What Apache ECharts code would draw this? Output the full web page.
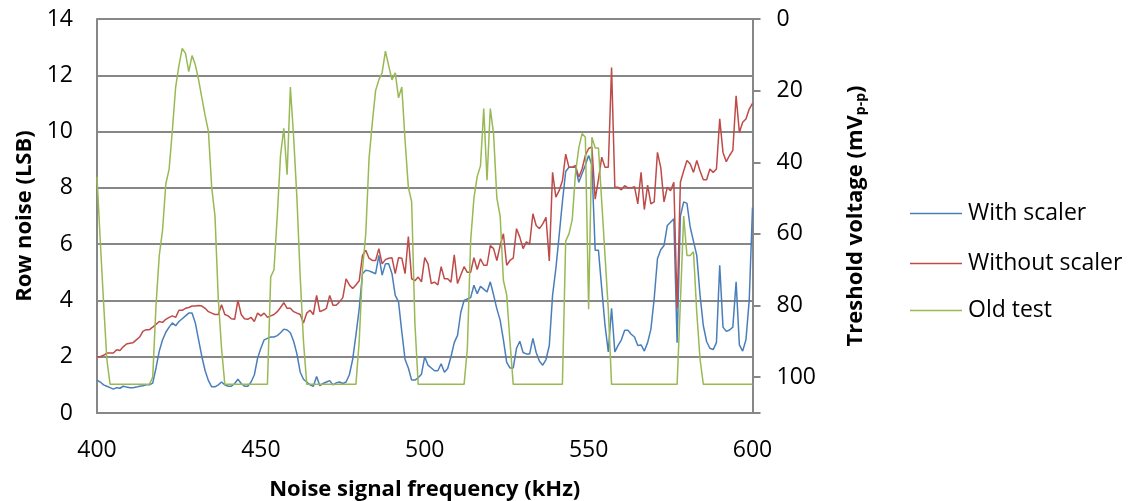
<!DOCTYPE html>
<html>
<head>
<meta charset="utf-8">
<script src="https://cdn.jsdelivr.net/npm/echarts@6/dist/echarts.min.js"></script>
<style>html,body{margin:0;padding:0;background:#fff}#c{width:1141px;height:501px}</style>
</head>
<body>
<div id="c"></div>
<script>
// Frequencies 400..600 kHz in 1 kHz steps
const freqStart = 400;
const withScaler = [
1.17,1.1,1.0,0.95,0.9,0.85,0.9,0.88,0.95,0.92,
0.9,0.9,0.92,0.95,0.97,1.0,1.0,1.06,1.6,2.2,
2.6,2.87,3.05,3.2,3.1,3.25,3.35,3.45,3.55,3.55,
3.2,2.6,2.0,1.5,1.15,0.93,0.93,1.0,1.1,1.0,
0.95,0.95,1.05,1.2,1.05,0.95,0.95,1.1,1.35,1.95,
2.3,2.6,2.65,2.7,2.7,2.75,2.85,2.98,2.95,2.85,
2.55,2.1,1.45,1.2,1.1,1.0,0.95,1.3,0.97,1.05,
1.1,1.15,1.0,1.07,1.1,1.05,1.1,1.36,1.9,2.77,
3.7,4.95,5.07,5.05,5.0,4.95,5.6,4.9,5.3,5.3,
4.95,4.18,3.95,2.88,1.9,1.6,1.17,1.17,1.25,1.38,
2.0,1.7,1.6,1.5,1.5,1.75,1.45,1.58,2.0,2.5,
2.76,3.58,4.0,4.05,4.1,4.54,4.24,4.5,4.4,4.3,
4.66,4.2,3.7,3.3,2.6,1.8,1.6,1.6,2.3,2.55,
2.15,2.1,2.1,2.65,2.15,1.84,1.7,1.9,2.4,4.18,
5.13,6.3,7.5,8.58,8.73,8.73,8.73,8.2,8.5,8.8,
9.15,8.8,5.78,5.78,4.43,3.12,2.17,3.72,2.17,2.4,
2.6,2.94,2.94,2.8,2.7,2.4,2.42,2.2,2.5,2.98,
4.06,5.48,5.8,5.95,6.66,6.78,6.9,2.5,7.0,7.5,
7.45,6.6,6.1,5.6,4.18,3.1,2.54,2.3,2.25,2.5,
5.25,3.05,2.9,2.95,3.05,4.66,2.42,2.2,2.6,4.0,
7.3
];
const withoutScaler = [
2.0,2.0,2.05,2.13,2.13,2.13,2.25,2.22,2.35,2.45,
2.48,2.5,2.6,2.7,2.9,2.96,2.96,3.05,3.15,3.25,
3.22,3.33,3.4,3.45,3.4,3.65,3.65,3.72,3.75,3.8,
3.8,3.82,3.8,3.72,3.6,3.55,3.5,3.5,3.85,3.5,
3.45,3.35,3.33,4.0,3.5,3.35,3.33,3.4,3.25,3.55,
3.45,3.55,3.4,3.45,3.5,3.6,3.75,3.92,3.72,3.72,
3.6,3.55,3.5,3.2,3.55,3.65,3.5,4.18,3.6,3.65,
3.72,4.18,3.83,3.83,3.95,4.1,4.77,4.55,4.42,4.55,
4.7,5.6,5.78,5.5,5.42,5.42,5.84,5.3,5.45,5.5,
5.52,4.95,5.52,5.5,4.95,6.27,4.77,4.7,4.83,4.66,
5.52,5.3,4.6,4.65,4.55,5.2,4.77,4.77,4.65,5.62,
4.6,4.9,5.2,5.0,5.0,5.52,5.1,5.48,5.25,5.25,
5.95,5.84,5.42,5.95,6.37,5.25,5.42,5.5,6.55,6.25,
5.84,6.08,6.0,7.08,6.66,6.55,6.72,6.95,5.4,8.55,
7.67,7.9,8.25,9.2,8.73,8.73,8.8,8.38,8.67,9.15,
9.4,9.45,7.6,8.3,9.09,8.73,8.73,12.28,8.02,8.02,
7.93,8.08,8.0,8.0,8.04,7.43,8.55,7.23,8.1,7.43,
7.5,9.26,8.73,7.5,8.02,7.9,8.2,3.72,8.2,8.6,
8.97,8.85,8.55,8.97,8.6,8.29,8.29,8.67,8.55,8.67,
10.45,9.26,8.93,9.15,9.33,11.27,9.97,10.33,10.45,10.8,
11.0
];
const oldTest = [
44,62,79,95,102,102,102,102,102,102,
102,102,102,102,102,102,102,100,80,66,
59,46,42,31,19,13,8.2,9.6,14.7,10.2,
12.8,17,22,27,31.4,47,55,78,92,102,
102,102,102,102,102,102,102,102,102,102,
102,102,102,72,70,55,38,30.5,43.5,19,
33,50,72,90,102,102,102,102,102,102,
102,102,102,102,102,102,102,102,102,102,
90,70,60,39,29,20,17,15,9,13,
17,15,22,19,34,47,51,85,102,102,
102,102,102,102,102,102,102,102,102,102,
102,102,102,92,62,50,44,41,25,45,
25,32,50,55,73,77,90,102,102,102,
102,102,102,102,102,102,102,102,102,102,
102,102,102,62,60,56,43,36,32,33,
81,33,36,36,51,66,81,102,102,102,
102,102,102,102,102,102,102,102,102,102,
102,102,102,102,102,102,102,102,79,55,
66,66,65,82,95,102,102,102,102,102,
102,102,102,102,102,102,102,102,102,102,
102
];
const seriesNames = ['With scaler', 'Without scaler', 'Old test'];
const leftTicks = [0, 2, 4, 6, 8, 10, 12, 14];
const rightTicks = [0, 20, 40, 60, 80, 100];

function pairs(arr) { return arr.map((v, i) => [freqStart + i, v]); }

const FONT = 'Open Sans';
const chart = echarts.init(document.getElementById('c'), null, {renderer: 'canvas'});
const axisGray = '#878787';
const legendTop = [202, 252, 299];
chart.setOption({
  animation: false,
  backgroundColor: '#fff',
  textStyle: {fontFamily: FONT},
  grid: {left: 97, right: 388.5, top: 19, bottom: 88, containLabel: false, outerBoundsMode: 'none'},
  legend: seriesNames.map((n, i) => ({
    data: [n], left: 910, top: legendTop[i], orient: 'vertical', padding: 0,
    icon: 'rect', itemWidth: 52, itemHeight: 1.5, itemGap: 0,
    textStyle: {fontFamily: FONT, fontSize: 23, color: '#000', padding: [0, 0, 0, 1]}
  })),
  xAxis: {
    type: 'value', min: 400, max: 600, interval: 50,
    name: 'Noise signal frequency (kHz)', nameLocation: 'middle', nameGap: 66,
    nameTextStyle: {fontFamily: FONT, fontSize: 22, fontWeight: 'bold', color: '#000'},
    axisLine: {show: true, lineStyle: {color: axisGray, width: 2}},
    axisTick: {show: false},
    splitLine: {show: false},
    axisLabel: {fontFamily: FONT, fontSize: 23, color: '#000', margin: 26}
  },
  yAxis: [
    {
      type: 'value', min: leftTicks[0], max: leftTicks[leftTicks.length - 1], interval: 2,
      position: 'left',
      name: 'Row noise (LSB)', nameLocation: 'middle', nameGap: 54, nameRotate: 90,
      nameTextStyle: {fontFamily: FONT, fontSize: 22, fontWeight: 'bold', color: '#000'},
      axisLine: {show: true, lineStyle: {color: axisGray, width: 2}},
      axisTick: {show: false},
      splitLine: {show: true, lineStyle: {color: axisGray, width: 2}},
      axisLabel: {fontFamily: FONT, fontSize: 23, color: '#000', margin: 24}
    },
    {
      type: 'value', min: 0, max: 110, interval: 20, inverse: true,
      position: 'right',
      name: 'Treshold voltage (mV{sub|p-p})', nameLocation: 'middle', nameGap: 90, nameRotate: 90,
      nameTextStyle: {fontFamily: FONT, fontSize: 22, fontWeight: 'bold', color: '#000',
        rich: {sub: {fontFamily: FONT, fontSize: 14, fontWeight: 'bold', color: '#000', verticalAlign: 'bottom', padding: [12, 0, 0, 0]}}},
      axisLine: {show: true, lineStyle: {color: axisGray, width: 2}},
      axisTick: {show: true, length: 8, lineStyle: {color: axisGray, width: 2}},
      splitLine: {show: false},
      axisLabel: {fontFamily: FONT, fontSize: 23, color: '#000', margin: 24,
        formatter: v => (rightTicks.indexOf(v) >= 0 ? String(v) : '')}
    }
  ],
  series: [
    {name: seriesNames[0], type: 'line', data: pairs(withScaler), yAxisIndex: 0, showSymbol: false, symbol: 'none',
     lineStyle: {color: '#4a7ebb', width: 1.5}, itemStyle: {color: '#4a7ebb'}},
    {name: seriesNames[1], type: 'line', data: pairs(withoutScaler), yAxisIndex: 0, showSymbol: false, symbol: 'none',
     lineStyle: {color: '#be4b48', width: 1.5}, itemStyle: {color: '#be4b48'}},
    {name: seriesNames[2], type: 'line', data: pairs(oldTest), yAxisIndex: 1, showSymbol: false, symbol: 'none',
     lineStyle: {color: '#98b954', width: 1.5}, itemStyle: {color: '#98b954'}}
  ]
});
</script>
</body>
</html>
